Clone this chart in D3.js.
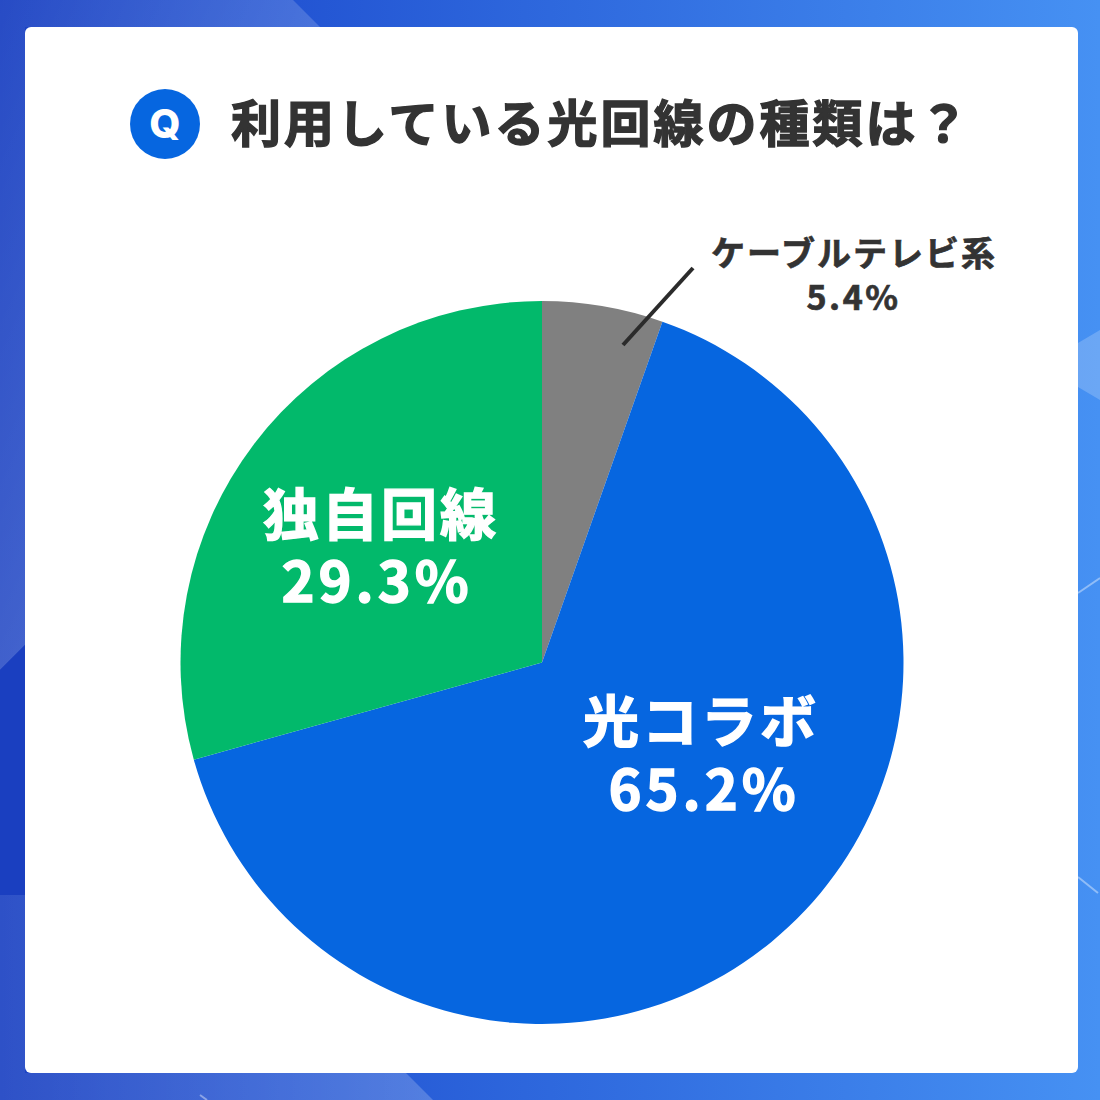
<!DOCTYPE html>
<html lang="ja">
<head>
<meta charset="utf-8">
<script src="https://cdnjs.cloudflare.com/ajax/libs/d3/7.8.5/d3.min.js"></script>
<style>
  html, body { margin: 0; padding: 0; background: #fff; }
  svg { display: block; }
  text { font-family: "Noto Sans CJK JP", "Noto Sans", sans-serif; }
</style>
</head>
<body>
<div id="chart"></div>
<script>
const categories = ['ケーブルテレビ系', '光コラボ', '独自回線'];
const values = [5.4, 65.2, 29.3];
const colors = ['#808080', '#0666e0', '#02b96b'];
const title = '利用している光回線の種類は？';

const width = 1100, height = 1100;
const cx = 542, cy = 662.5, radius = 361.5;

const svg = d3.select('#chart').append('svg')
  .attr('width', width)
  .attr('height', height);

const defs = svg.append('defs');

function gradient(id, x1, y1, x2, y2, stops) {
  const g = defs.append('linearGradient')
    .attr('id', id)
    .attr('gradientUnits', 'userSpaceOnUse')
    .attr('x1', x1).attr('y1', y1).attr('x2', x2).attr('y2', y2);
  stops.forEach(s => {
    g.append('stop')
      .attr('offset', s[0])
      .attr('stop-color', s[1])
      .attr('stop-opacity', s[2]);
  });
}

gradient('bg', 0, 0, 1100, 0, [[0, '#1c42c2', 1], [0.27, '#2355d3', 1], [1, '#4691f3', 1]]);
gradient('glowTop', 0, 0, 270, 120, [[0, '#ffffff', 0.05], [1, '#ffffff', 0.17]]);
gradient('glowBottom', 0, 0, 430, 0, [[0, '#ffffff', 0.08], [1, '#ffffff', 0.2]]);

svg.append('rect').attr('width', width).attr('height', height).attr('fill', 'url(#bg)');

const shapes = [
  { d: 'M0,0H293L320,27H25V645L0,670Z', fill: 'url(#glowTop)' },
  { d: 'M0,670L25,645V895H0Z', fill: '#1a3fc0' },
  { d: 'M0,895H25V1073H406L433,1100H0Z', fill: 'url(#glowBottom)' },
  { d: 'M1078,343L1100,330V400L1078,387Z', fill: 'rgba(255,255,255,0.2)' }
];
svg.selectAll('path.deco').data(shapes).enter().append('path')
  .attr('class', 'deco')
  .attr('d', d => d.d)
  .attr('fill', d => d.fill);

const glints = [
  'M1078,593L1100,578',
  'M1078,877L1098,893',
  'M200,1095L207,1100'
];
svg.selectAll('path.glint').data(glints).enter().append('path')
  .attr('class', 'glint')
  .attr('d', d => d)
  .attr('stroke', '#ffffff')
  .attr('stroke-opacity', 0.4)
  .attr('stroke-width', 2)
  .attr('fill', 'none');

// card
svg.append('rect')
  .attr('x', 25).attr('y', 27)
  .attr('width', 1053).attr('height', 1046)
  .attr('rx', 6)
  .attr('fill', '#ffffff');

// heading
svg.append('circle').attr('cx', 165).attr('cy', 124).attr('r', 35).attr('fill', '#0666e0');
svg.append('text')
  .attr('x', 165).attr('y', 138)
  .attr('text-anchor', 'middle')
  .attr('font-size', 40)
  .attr('font-weight', 800)
  .style('font-family', 'Inter, "Noto Sans", sans-serif')
  .attr('fill', '#ffffff')
  .text('Q');
svg.append('text')
  .attr('x', 231).attr('y', 142)
  .attr('font-size', 50)
  .attr('font-weight', 700)
  .attr('letter-spacing', 3)
  .attr('stroke', '#333333')
  .attr('stroke-width', 1.4)
  .attr('fill', '#333333')
  .text(title);

// pie
const pie = d3.pie().sort(null).value(d => d.value);
const arc = d3.arc().innerRadius(0).outerRadius(radius);
const table = categories.map((c, i) => ({ name: c, value: values[i], color: colors[i] }));
const g = svg.append('g').attr('transform', `translate(${cx},${cy})`);

g.selectAll('path').data(pie(table)).enter().append('path')
  .attr('d', arc)
  .attr('fill', d => d.data.color);

// labels: name line and value line are placed separately
const labelPos = [
  { nx: 854, ny: 266, ns: 34, nl: 2, vx: 853.5, vy: 310, vs: 34, vl: 2.5, fill: '#333333', sw: 0.7 },
  { nx: 701, ny: 742, ns: 56, nl: 3, vx: 704, vy: 810, vs: 56, vl: 4, fill: '#ffffff', sw: 1.4 },
  { nx: 381, ny: 535, ns: 56, nl: 3, vx: 377, vy: 602, vs: 56, vl: 4, fill: '#ffffff', sw: 1.4 }
];
categories.forEach((c, i) => {
  const p = labelPos[i];
  const t = svg.append('text')
    .attr('text-anchor', 'middle')
    .attr('font-weight', 700)
    .attr('fill', p.fill)
    .attr('stroke', p.fill)
    .attr('stroke-width', p.sw);
  t.append('tspan')
    .attr('x', p.nx).attr('y', p.ny)
    .attr('font-size', p.ns).attr('letter-spacing', p.nl)
    .text(c);
  t.append('tspan')
    .attr('x', p.vx).attr('y', p.vy)
    .attr('font-size', p.vs).attr('letter-spacing', p.vl)
    .text(values[i] + '%');
});

// leader line for the small slice
svg.append('line')
  .attr('x1', 623).attr('y1', 345)
  .attr('x2', 693).attr('y2', 268)
  .attr('stroke', '#2b2b2b')
  .attr('stroke-width', 4);
</script>
</body>
</html>
